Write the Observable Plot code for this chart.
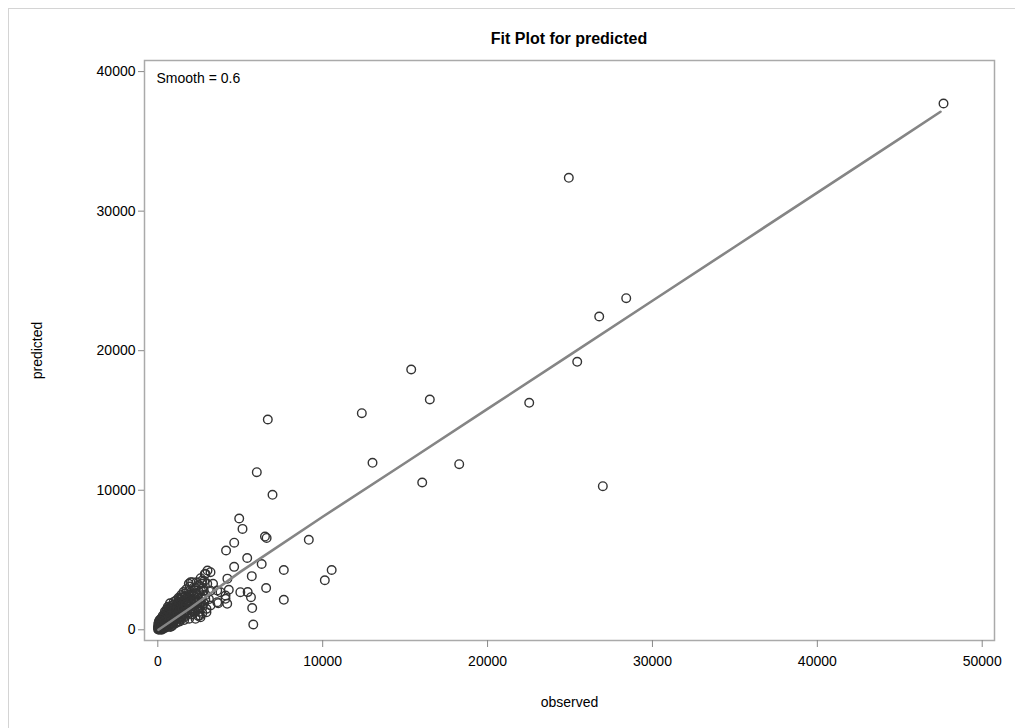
<!DOCTYPE html>
<html>
<head>
<meta charset="utf-8">
<script src="https://cdn.jsdelivr.net/npm/d3@7"></script>
<script src="https://cdn.jsdelivr.net/npm/@observablehq/plot@0.6"></script>
<style>
  html, body { margin: 0; padding: 0; background: #fff; }
  body { width: 1015px; height: 728px; position: relative; overflow: hidden; font-family: "Liberation Sans", Arial, sans-serif; }
  #border { position: absolute; left: 8px; top: 8px; width: 1100px; height: 800px; border-left: 1px solid #d4d4d4; border-top: 1px solid #d4d4d4; z-index: 5; pointer-events: none; }
  #title { position: absolute; left: 144px; width: 850px; top: 30px; text-align: center; font-size: 16px; font-weight: bold; color: #000; }
  #chart { position: absolute; left: 0; top: 50px; }
</style>
</head>
<body>
<div id="title">Fit Plot for predicted</div>
<div id="chart"></div>
<div id="border"></div>
<script>
// observed / predicted pairs
const points = [
  // outliers and mid-range points
  [47653,37714],[24927,32390],[28409,23762],[26771,22451],[25437,19205],[22526,16267],[15369,18653],[16497,16503],
  [12373,15521],[13022,11967],[18280,11867],[16036,10555],[26990,10290],
  [6671,15070],[6004,11294],[6957,9674],[4937,7976],[5137,7230],[4634,6240],[4140,5683],[6500,6680],[6600,6580],
  [9158,6449],[5422,5145],[4630,4510],[6300,4715],[7642,4285],[10545,4285],[10129,3550],[5700,3845],[4220,3665],
  [6570,2995],[5005,2694],[5450,2700],[5650,2336],[7642,2150],[5725,1560],[5790,380],[4306,2866],[4106,2221],
  [3803,2694],[4106,2458],[4209,1863],[3663,1906],
  // circles at the edge of the dense cluster
  [3014,4250],[3196,4127],[2893,4013],[2086,3411],[2693,3533],[3350,3296],[3603,2816],[3603,1978],[3196,1741],
  [2950,1261],[2590,903],[1880,2100],[2390,1505],[2547,1025],[2287,788],[2790,2816],[1274,2221],[1983,3411],
  // dense cluster near the origin
  [20,30],[50,80],[80,40],[100,150],[120,60],[150,200],[60,250],[180,120],[200,300],[30,400],[250,180],[90,350],
  [300,250],[140,500],[350,400],[40,150],[220,450],[280,100],[380,300],[10,200],[160,350],[320,550],[70,600],
  [260,650],[390,150],[110,700],[200,50],[330,80],[150,20],[240,10],[60,20],
  [420,600],[450,800],[480,350],[500,1000],[520,200],[550,700],[580,1200],[600,450],[620,900],[650,1500],[680,300],
  [700,1100],[720,650],[750,1300],[780,500],[800,1700],[820,850],[850,250],[880,1000],[900,1400],[920,600],
  [950,1800],[980,750],[1000,1200],[430,1300],[470,1100],[530,1450],[560,500],[610,1650],[660,1000],[690,800],
  [740,1900],[770,1050],[810,400],[860,1550],[890,700],[940,1150],[970,2000],[410,950],[460,150],[510,550],
  [590,850],[640,1250],[710,350],[760,1600],[830,1250],[870,950],[930,450],[990,1500],
  [1050,900],[1080,1600],[1100,2100],[1120,500],[1150,1300],[1180,1900],[1200,800],[1230,1500],[1260,2300],
  [1300,1100],[1330,600],[1360,1800],[1400,1400],[1430,2500],[1460,900],[1500,2000],[1530,1200],[1560,2700],
  [1600,700],[1630,1600],[1660,2200],[1700,1000],[1730,2900],[1760,1400],[1800,1800],[1040,1300],[1140,1000],
  [1220,2000],[1320,1600],[1420,1100],[1520,1650],[1620,2400],[1720,2000],[1780,1200],
  [1850,2500],[1900,800],[1950,3100],[2000,1500],[2050,2200],[2100,1100],[2150,3000],[2200,1800],[2250,2600],
  [2300,1300],[2350,3400],[2400,2000],[2450,1000],[2500,2700],[2550,1600],[2600,3700],[2650,2300],[2700,1200],
  [2750,3000],[2800,1900],[2850,4000],[2900,2500],[2950,1500],[3000,3300],[3100,2200],[3200,2800],[1880,3300],
  [100,450],[180,550],[250,800],[330,900],[400,1100],[350,700],[270,400],[150,650],[50,500],[430,450],[520,800],
  [600,1100],[680,1350],[560,950],[640,700],[720,900],[800,1100],[870,1300],[950,1000],[1020,1500],[1100,1700],
  [1170,1600],[1250,1800],[1320,2000],[1380,2200],[1450,1700],[1520,2300],[1580,1900],[1650,2600],[1700,1500],
  [1780,2300],[1840,1900],[1900,2800],[1960,2400],[2020,2700],[2080,1800],[2150,2500],[2220,2200],[2280,3000],
  [2350,2600],[2420,2300],[2480,3200],[2540,2000],[2620,2800],[2680,3300],[2740,2500],[2820,3500],[2880,2200],
  [1000,600],[1100,800],[1200,1100],[1300,1350],[1400,900],[1500,1500],[1600,1100],[1700,1800],[1800,1400],
  [1900,1200],[2000,2000],[2100,1500],[2200,1300],[2300,2100],[2400,1700],[2500,1300],[2600,1900],[2700,1600],
  [750,200],[900,350],[1050,450],[1250,600],[1350,850],[1550,850],[1650,1300],[700,1600],[500,1250],[300,1000],
  [200,800],[120,300],[240,250],[400,600]
];
const observed = points.map(p => p[0]);
const predicted = points.map(p => p[1]);

// loess smooth (smooth = 0.6)
const smoothX = [40, 2000, 5000, 10000, 15000, 20000, 25000, 30000, 35000, 40000, 45000, 47470];
const smoothY = [0, 1580, 4150, 8100, 11950, 15830, 19700, 23580, 27450, 31330, 35200, 37120];

const xTicks = [0, 10000, 20000, 30000, 40000, 50000];
const yTicks = [0, 10000, 20000, 30000, 40000];

const scatter = observed.map((o, i) => ({observed: o, predicted: predicted[i]}));
const smooth = smoothX.map((x, i) => ({x, y: smoothY[i]}));

const chart = Plot.plot({
  width: 1015,
  height: 678,
  marginTop: 10,
  marginBottom: 88,
  marginLeft: 144,
  marginRight: 21,
  style: {fontFamily: '"Liberation Sans", Arial, sans-serif', fontSize: "14px", color: "#000", background: "transparent"},
  x: {domain: [-807, 50745], ticks: xTicks, tickFormat: d3.format("d"), label: null},
  y: {domain: [-767, 40795], ticks: yTicks, tickFormat: d3.format("d"), label: null},
  marks: [
    Plot.frame({stroke: "#aaa", strokeWidth: 1.5}),
    Plot.axisX({ticks: xTicks, tickFormat: d3.format("d"), tickSize: 7, tickPadding: 9, stroke: "#888",
      label: "observed", labelArrow: "none", labelAnchor: "center", labelOffset: 66, fontSize: 14}),
    Plot.axisY({ticks: yTicks, tickFormat: d3.format("d"), tickSize: 6, tickPadding: 3, stroke: "#888",
      label: "predicted", labelArrow: "none", labelAnchor: "center", labelOffset: 112, fontSize: 14}),
    Plot.dot(scatter, {x: "observed", y: "predicted", r: 4.3, stroke: "#333", strokeWidth: 1.4, fill: "none"}),
    Plot.line(smooth, {x: "x", y: "y", stroke: "#858585", strokeWidth: 2.6}),
    Plot.text(["Smooth = 0.6"], {frameAnchor: "top-left", dx: 12, dy: 13, fontSize: 14, fill: "#000", textAnchor: "start"})
  ]
});
document.getElementById("chart").appendChild(chart);
</script>
</body>
</html>
